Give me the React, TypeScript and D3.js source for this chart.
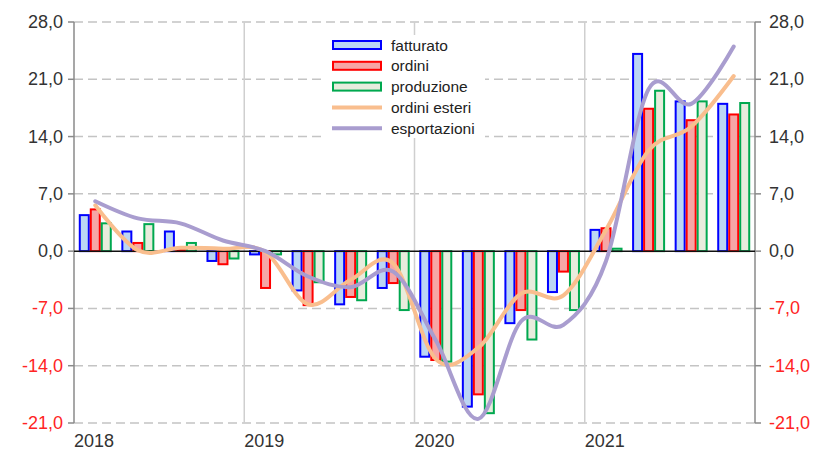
import React from "react";
import * as d3 from "d3";

const quarters = ["2018Q1","2018Q2","2018Q3","2018Q4","2019Q1","2019Q2","2019Q3","2019Q4","2020Q1","2020Q2","2020Q3","2020Q4","2021Q1","2021Q2","2021Q3","2021Q4"];
const years = ["2018", "2019", "2020", "2021"];
const yTicks = [-21, -14, -7, 0, 7, 14, 21, 28];

const fatturato = [4.4, 2.4, 2.4, -1.2, -0.4, -4.8, -6.5, -4.5, -12.9, -19.0, -8.8, -5.0, 2.6, 24.1, 18.3, 18.0];
const ordini = [5.1, 1.0, 0.2, -1.6, -4.5, -6.6, -5.6, -3.9, -13.3, -17.5, -7.2, -2.5, 2.8, 17.4, 16.0, 16.7];
const produzione = [3.4, 3.3, 1.0, -0.9, -0.4, -3.8, -6.0, -7.2, -13.5, -19.8, -10.8, -7.2, 0.3, 19.6, 18.3, 18.1];
const ordiniEsteri = [5.6, 0.1, 0.4, 0.3, -0.1, -6.5, -3.5, -1.5, -13.2, -11.8, -5.2, -5.4, 2.6, 12.3, 15.2, 21.4];
const esportazioni = [6.1, 4.0, 3.4, 1.3, 0.0, -3.1, -4.4, -2.5, -10.9, -20.5, -8.6, -9.0, -1.2, 19.8, 18.0, 25.0];

const barSeries = [
  { name: "fatturato", values: fatturato, stroke: "#0000ff", fill: "#bcd6f4" },
  { name: "ordini", values: ordini, stroke: "#ff0000", fill: "#f6a6a6" },
  { name: "produzione", values: produzione, stroke: "#00a84f", fill: "#e8ecdd" },
];
const lineSeries = [
  { name: "ordini esteri", values: ordiniEsteri, stroke: "#f9be8e" },
  { name: "esportazioni", values: esportazioni, stroke: "#a99dcf" },
];

const W = 818, H = 452;
const L = 74, R = 755, T = 22, B = 423;
const font = "'Liberation Sans', Arial, sans-serif";

export default function App() {
  const x = d3.scaleBand<string>().domain(quarters).range([L, R]).padding(0);
  const bw = x.bandwidth();
  const inner = d3.scaleBand<string>().domain(barSeries.map(s => s.name)).range([bw / 2 - 16.5, bw / 2 + 16.5]).padding(0);
  const y = d3.scaleLinear().domain([-21, 28]).range([B, T]);
  const cx = (q: string) => (x(q) as number) + bw / 2;
  const line = d3.line<number>()
    .x((_, i) => cx(quarters[i]))
    .y(v => y(v))
    .curve(d3.curveCardinal.tension(0));
  const yearX = years.map((yr) => x(yr + "Q1") as number);
  const fmt = (v: number) => v.toFixed(1).replace(".", ",");
  const legendItems = [...barSeries.map(s => ({ ...s, kind: "bar" })), ...lineSeries.map(s => ({ ...s, fill: "none", kind: "line" }))];

  return (
    <svg width={W} height={H} style={{ display: "block", position: "absolute", left: 0, top: 0, background: "#fff" }} fontFamily={font}>
      <rect x={0} y={0} width={W} height={H} fill="#fff" />
      {yTicks.filter(t => t !== 0).map(t => (
        <line key={"g" + t} x1={L} x2={R} y1={y(t)} y2={y(t)} stroke="#c4c4c4" strokeWidth={1.5} strokeDasharray="9,5" />
      ))}
      {yearX.slice(1).map((xx, i) => (
        <line key={"v" + i} x1={xx} x2={xx} y1={T} y2={B} stroke="#cfcfcf" strokeWidth={1.5} />
      ))}
      <line x1={L} x2={L} y1={T} y2={B} stroke="#8a8a8a" strokeWidth={1.5} />
      <line x1={R} x2={R} y1={T} y2={B} stroke="#8a8a8a" strokeWidth={1.5} />
      {yTicks.map(t => (
        <g key={"t" + t}>
          <line x1={L - 6} x2={L} y1={y(t)} y2={y(t)} stroke="#8a8a8a" strokeWidth={1.5} />
          <line x1={R} x2={R + 6} y1={y(t)} y2={y(t)} stroke="#8a8a8a" strokeWidth={1.5} />
          <text x={L - 11} y={y(t)} textAnchor="end" dominantBaseline="central" fontSize={18} fill={t < 0 ? "#ff2424" : "#333"}>{fmt(t)}</text>
          <text x={R + 14} y={y(t)} textAnchor="start" dominantBaseline="central" fontSize={18} fill={t < 0 ? "#ff2424" : "#333"}>{fmt(t)}</text>
        </g>
      ))}
      <rect x={325} y={35} width={160} height={103} fill="#fff" />
      {barSeries.map(s => (
        <g key={s.name}>
          {s.values.map((v, i) => {
            const bx = (x(quarters[i]) as number) + (inner(s.name) as number);
            const y0 = y(Math.max(0, v)), y1 = y(Math.min(0, v));
            return <rect key={i} x={bx + 1} y={y0} width={inner.bandwidth() - 2} height={Math.max(0.5, y1 - y0)} fill={s.fill} stroke={s.stroke} strokeWidth={2} />;
          })}
        </g>
      ))}
      <line x1={L} x2={R} y1={y(0)} y2={y(0)} stroke="#111" strokeWidth={1.5} />
      {lineSeries.map(s => (
        <path key={s.name} d={line(s.values) || ""} fill="none" stroke={s.stroke} strokeWidth={4} strokeLinecap="round" />
      ))}
      {years.map((yr, i) => (
        <text key={yr} x={yearX[i]} y={441} dominantBaseline="central" fontSize={18} fill="#333">{yr}</text>
      ))}
      {legendItems.map((s, i) => {
        const ly = 45 + i * 20.8;
        return (
          <g key={"l" + s.name}>
            {s.kind === "bar"
              ? <rect x={333} y={ly - 4} width={48} height={8} fill={s.fill} stroke={s.stroke} strokeWidth={2} />
              : <line x1={332} x2={382} y1={ly} y2={ly} stroke={s.stroke} strokeWidth={4} />}
            <text x={391} y={ly} dominantBaseline="central" fontSize={15.5} fill="#222">{s.name}</text>
          </g>
        );
      })}
    </svg>
  );
}
